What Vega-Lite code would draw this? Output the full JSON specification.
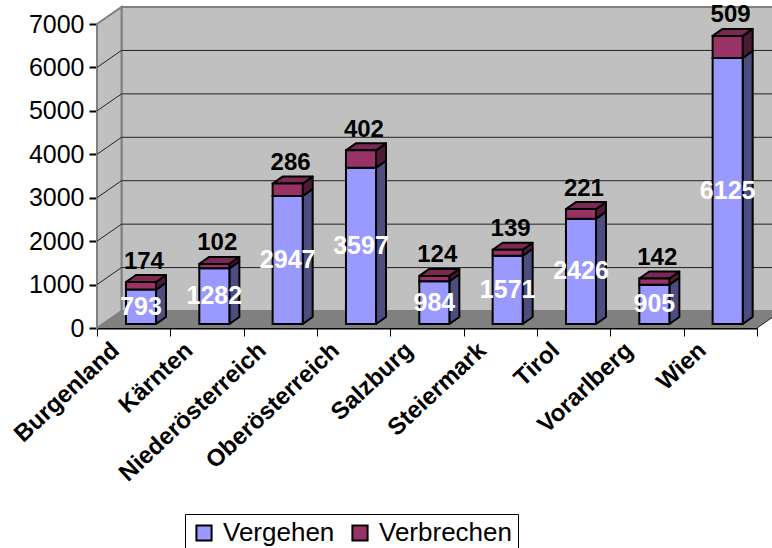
{
"$schema":"https://vega.github.io/schema/vega-lite/v6.json",
"width":660,"height":304,
"autosize":{"type":"none"},
"padding":{"left":97,"top":24,"right":15,"bottom":220},
"background":"white",
"config":{"view":{"stroke":null},"text":{"font":"Liberation Sans"},"axis":{"labelFont":"Liberation Sans"},"legend":{"labelFont":"Liberation Sans"}},
"datasets":{
"bars":[
{"Bundesland":"Burgenland","pos":0,"Delikt":"Vergehen","Anzahl":793},{"Bundesland":"Burgenland","pos":0,"Delikt":"Verbrechen","Anzahl":174},
{"Bundesland":"Kärnten","pos":1,"Delikt":"Vergehen","Anzahl":1282},{"Bundesland":"Kärnten","pos":1,"Delikt":"Verbrechen","Anzahl":102},
{"Bundesland":"Niederösterreich","pos":2,"Delikt":"Vergehen","Anzahl":2947},{"Bundesland":"Niederösterreich","pos":2,"Delikt":"Verbrechen","Anzahl":286},
{"Bundesland":"Oberösterreich","pos":3,"Delikt":"Vergehen","Anzahl":3597},{"Bundesland":"Oberösterreich","pos":3,"Delikt":"Verbrechen","Anzahl":402},
{"Bundesland":"Salzburg","pos":4,"Delikt":"Vergehen","Anzahl":984},{"Bundesland":"Salzburg","pos":4,"Delikt":"Verbrechen","Anzahl":124},
{"Bundesland":"Steiermark","pos":5,"Delikt":"Vergehen","Anzahl":1571},{"Bundesland":"Steiermark","pos":5,"Delikt":"Verbrechen","Anzahl":139},
{"Bundesland":"Tirol","pos":6,"Delikt":"Vergehen","Anzahl":2426},{"Bundesland":"Tirol","pos":6,"Delikt":"Verbrechen","Anzahl":221},
{"Bundesland":"Vorarlberg","pos":7,"Delikt":"Vergehen","Anzahl":905},{"Bundesland":"Vorarlberg","pos":7,"Delikt":"Verbrechen","Anzahl":142},
{"Bundesland":"Wien","pos":8,"Delikt":"Vergehen","Anzahl":6125},{"Bundesland":"Wien","pos":8,"Delikt":"Verbrechen","Anzahl":509}
],
"grid":[{"Wert":1000},{"Wert":2000},{"Wert":3000},{"Wert":4000},{"Wert":5000},{"Wert":6000}]
},
"layer":[
{"data":{"values":[{}]},"mark":{"type":"rect","fill":"#C0C0C0","stroke":"#808080","strokeWidth":2,"clip":false},
 "encoding":{"x":{"datum":0.334,"type":"quantitative","scale":{"domain":[0,9],"nice":false,"zero":false},"axis":{"values":[0,1,2,3,4,5,6,7,8,9],"labels":false,"title":null,"grid":false,"tickSize":8,"tickColor":"black","tickWidth":1,"domainColor":"black","domainWidth":2}},
 "x2":{"datum":9.5},
 "y":{"datum":391,"type":"quantitative","scale":{"domain":[0,7000],"nice":false},"axis":{"values":[0,1000,2000,3000,4000,5000,6000,7000],"format":"d","title":null,"grid":false,"tickSize":8,"tickColor":"black","tickWidth":2,"domainColor":"black","domainWidth":2,"labelFontSize":25,"labelColor":"black","labelPadding":5}},
 "y2":{"datum":7391}}},
{"data":{"values":[{"t":0,"o":7000,"u":0},{"t":0.334,"o":7391,"u":391}]},"mark":{"type":"area","fill":"#C0C0C0","stroke":"#808080","strokeWidth":2,"clip":false},
 "encoding":{"x":{"field":"t","type":"quantitative"},"y":{"field":"o","type":"quantitative"},"y2":{"field":"u"}}},
{"data":{"values":[{"t":0,"o":0,"u":0},{"t":0.334,"o":391,"u":0},{"t":9,"o":391,"u":0},{"t":9.334,"o":391,"u":391}]},"mark":{"type":"area","fill":"#808080","clip":false},
 "encoding":{"x":{"field":"t","type":"quantitative"},"y":{"field":"o","type":"quantitative"},"y2":{"field":"u"}}},
{"data":{"name":"grid"},"transform":[{"calculate":"datum.Wert+391","as":"hinten"}],"mark":{"type":"rule","color":"#222222","strokeWidth":1,"clip":false},
 "encoding":{"x":{"datum":0.334,"type":"quantitative"},"x2":{"datum":9.5},"y":{"field":"hinten","type":"quantitative"}}},
{"data":{"name":"grid"},"transform":[{"calculate":"datum.Wert+391","as":"hinten"}],"mark":{"type":"rule","color":"#222222","strokeWidth":1,"clip":false},
 "encoding":{"x":{"datum":0,"type":"quantitative"},"x2":{"datum":0.334},"y":{"field":"Wert","type":"quantitative"},"y2":{"field":"hinten"}}},
{"data":{"values":[{"Wert":0}]},"transform":[{"calculate":"datum.Wert+391","as":"hinten"}],"mark":{"type":"rule","color":"#222222","strokeWidth":1,"clip":false},
 "encoding":{"x":{"datum":9,"type":"quantitative"},"x2":{"datum":9.334},"y":{"field":"Wert","type":"quantitative"},"y2":{"field":"hinten"}}},
{"data":{"name":"bars"},"transform":[
 {"stack":"Anzahl","groupby":["pos"],"sort":[{"field":"Delikt","order":"descending"}],"as":["s0","s1"]},
 {"filter":"datum.Delikt=='Vergehen'"},
 {"calculate":"datum.s0+92","as":"lo"},{"calculate":"datum.s1+92","as":"hi"},
 {"calculate":"datum.pos+0.805","as":"a"},{"calculate":"datum.pos+0.941","as":"b"},
 {"fold":["a","b"],"as":["k","sx"]},
 {"calculate":"datum.hi+(datum.k=='b'?161:0)","as":"st"},{"calculate":"datum.lo+(datum.k=='b'?161:0)","as":"sb"}],
 "mark":{"type":"area","fill":"#4D4D80","stroke":"black","strokeWidth":2,"strokeJoin":"round","clip":false},
 "encoding":{"x":{"field":"sx","type":"quantitative"},"y":{"field":"st","type":"quantitative"},"y2":{"field":"sb"},"detail":{"field":"Bundesland"}}},
{"data":{"name":"bars"},"transform":[
 {"stack":"Anzahl","groupby":["pos"],"sort":[{"field":"Delikt","order":"descending"}],"as":["s0","s1"]},
 {"filter":"datum.Delikt=='Verbrechen'"},
 {"calculate":"datum.s0+92","as":"lo"},{"calculate":"datum.s1+92","as":"hi"},
 {"calculate":"datum.pos+0.805","as":"a"},{"calculate":"datum.pos+0.941","as":"b"},
 {"fold":["a","b"],"as":["k","sx"]},
 {"calculate":"datum.hi+(datum.k=='b'?161:0)","as":"st"},{"calculate":"datum.lo+(datum.k=='b'?161:0)","as":"sb"}],
 "mark":{"type":"area","fill":"#4D1A33","stroke":"black","strokeWidth":2,"strokeJoin":"round","clip":false},
 "encoding":{"x":{"field":"sx","type":"quantitative"},"y":{"field":"st","type":"quantitative"},"y2":{"field":"sb"},"detail":{"field":"Bundesland"}}},
{"data":{"name":"bars"},"transform":[
 {"stack":"Anzahl","groupby":["pos"],"sort":[{"field":"Delikt","order":"descending"}],"as":["s0","s1"]},
 {"filter":"datum.Delikt=='Verbrechen'"},
 {"calculate":"datum.s1+92","as":"hi"},
 {"calculate":"datum.pos+0.395","as":"p0"},{"calculate":"datum.pos+0.531","as":"p1"},{"calculate":"datum.pos+0.805","as":"p2"},{"calculate":"datum.pos+0.941","as":"p3"},
 {"fold":["p0","p1","p2","p3"],"as":["k","tx"]},
 {"calculate":"datum.hi+(datum.k=='p0'?0:161)","as":"to"},{"calculate":"datum.hi+(datum.k=='p3'?161:0)","as":"tu"}],
 "mark":{"type":"area","fill":"#7A2952","stroke":"black","strokeWidth":2,"strokeJoin":"round","clip":false},
 "encoding":{"x":{"field":"tx","type":"quantitative"},"y":{"field":"to","type":"quantitative"},"y2":{"field":"tu"},"detail":{"field":"Bundesland"}}},
{"data":{"name":"bars"},"transform":[
 {"stack":"Anzahl","groupby":["pos"],"sort":[{"field":"Delikt","order":"descending"}],"as":["s0","s1"]},
 {"calculate":"datum.s0+92","as":"lo"},{"calculate":"datum.s1+92","as":"hi"},
 {"calculate":"datum.pos+0.395","as":"xl"},{"calculate":"datum.pos+0.805","as":"xr"}],
 "mark":{"type":"rect","stroke":"black","strokeWidth":2,"clip":false},
 "encoding":{"x":{"field":"xl","type":"quantitative"},"x2":{"field":"xr"},"y":{"field":"lo","type":"quantitative"},"y2":{"field":"hi"},
 "color":{"field":"Delikt","type":"nominal","scale":{"domain":["Vergehen","Verbrechen"],"range":["#9999FF","#993366"]},
  "legend":{"orient":"none","legendX":88,"legendY":490,"direction":"horizontal","title":null,"strokeColor":"black","fillColor":"white","padding":6,"symbolType":"square","symbolSize":230,"symbolStrokeColor":"black","symbolStrokeWidth":2,"labelFontSize":26,"labelColor":"black","columnPadding":12,"labelOffset":6}}}},
{"data":{"name":"bars"},"transform":[
 {"stack":"Anzahl","groupby":["pos"],"sort":[{"field":"Delikt","order":"descending"}],"as":["s0","s1"]},
 {"filter":"datum.Delikt=='Vergehen'"},
 {"calculate":"(datum.s0+datum.s1)/2+92","as":"mitte"},{"calculate":"datum.pos+0.6","as":"xm"}],
 "mark":{"type":"text","fontSize":25,"fontWeight":"bold","color":"white","baseline":"middle","align":"center","clip":false},
 "encoding":{"x":{"field":"xm","type":"quantitative"},"y":{"field":"mitte","type":"quantitative"},"text":{"field":"Anzahl","type":"quantitative"}}},
{"data":{"name":"bars"},"transform":[
 {"stack":"Anzahl","groupby":["pos"],"sort":[{"field":"Delikt","order":"descending"}],"as":["s0","s1"]},
 {"filter":"datum.Delikt=='Verbrechen'"},
 {"calculate":"datum.s1+92+470","as":"oben"},{"calculate":"datum.pos+0.64","as":"xm"}],
 "mark":{"type":"text","fontSize":24,"fontWeight":"bold","color":"black","baseline":"middle","align":"center","clip":false},
 "encoding":{"x":{"field":"xm","type":"quantitative"},"y":{"field":"oben","type":"quantitative"},"text":{"field":"Anzahl","type":"quantitative"}}},
{"data":{"name":"bars"},"transform":[{"filter":"datum.Delikt=='Vergehen'"},{"calculate":"datum.pos+0.5","as":"xm"}],
 "mark":{"type":"text","fontSize":24,"fontWeight":"bold","color":"black","angle":317,"align":"right","baseline":"middle","dx":-26,"dy":2,"clip":false},
 "encoding":{"x":{"field":"xm","type":"quantitative"},"y":{"datum":0,"type":"quantitative"},"text":{"field":"Bundesland"}}}
]
}
